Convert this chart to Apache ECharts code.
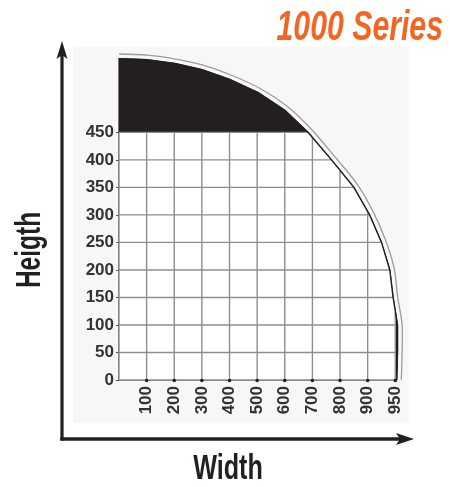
<!DOCTYPE html>
<html>
<head>
<meta charset="utf-8">
<script src="https://cdn.jsdelivr.net/npm/echarts@6/dist/echarts.min.js"></script>
<style>
  html, body { margin: 0; padding: 0; background: #ffffff; }
  #chart { width: 450px; height: 487px; }
</style>
</head>
<body>
<div id="chart"></div>
<script>
// Width axis ticks: ten equal columns, the last one labelled 950
const widthTickValues = [100, 200, 300, 400, 500, 600, 700, 800, 900, 1000];
const widthTickLabels = ['100', '200', '300', '400', '500', '600', '700', '800', '900', '950'];
// Height axis ticks
const heightTicks = [0, 50, 100, 150, 200, 250, 300, 350, 400, 450];
// Outline of the opening (width, height) from the top-left corner down to the floor
const arcWidth  = [0, 100, 203, 300, 401, 504, 600, 684, 769, 850, 907, 950, 980, 992, 1008, 1008, 1005];
const arcHeight = [584, 582, 575, 564, 546, 522, 490, 450, 400, 350, 300, 250, 200, 150, 100, 50, 0];
// Limits of the gridded zone
const gridMaxWidth = 1000;
const gridMaxHeight = 450;

const arcPoints = arcWidth.map((w, i) => [w, arcHeight[i]]);

// Width of the outline at a given height
function arcWidthAt(h) {
  for (let i = 0; i < arcPoints.length - 1; i++) {
    const a = arcPoints[i], b = arcPoints[i + 1];
    if (h <= a[1] && h >= b[1]) {
      const t = a[1] === b[1] ? 0 : (a[1] - h) / (a[1] - b[1]);
      return a[0] + t * (b[0] - a[0]);
    }
  }
  return arcPoints[arcPoints.length - 1][0];
}
// Height of the outline at a given width
function arcHeightAt(w) {
  for (let i = 0; i < arcPoints.length - 1; i++) {
    const a = arcPoints[i], b = arcPoints[i + 1];
    if (w >= a[0] && w <= b[0]) {
      const t = a[0] === b[0] ? 0 : (w - a[0]) / (b[0] - a[0]);
      return a[1] + t * (b[1] - a[1]);
    }
  }
  return 0;
}
// Sutherland-Hodgman clip of a polygon against one half-plane
function clipPoly(poly, inside, cross) {
  const out = [];
  for (let i = 0; i < poly.length; i++) {
    const cur = poly[i], prev = poly[(i + poly.length - 1) % poly.length];
    const ci = inside(cur), pi = inside(prev);
    if (ci) {
      if (!pi) out.push(cross(prev, cur));
      out.push(cur);
    } else if (pi) {
      out.push(cross(prev, cur));
    }
  }
  return out;
}
function clipMaxX(poly, xm) {
  return clipPoly(poly, p => p[0] <= xm, (a, b) => {
    const t = (xm - a[0]) / (b[0] - a[0]);
    return [xm, a[1] + t * (b[1] - a[1])];
  });
}
function clipMaxY(poly, ym) {
  return clipPoly(poly, p => p[1] <= ym, (a, b) => {
    const t = (ym - a[1]) / (b[1] - a[1]);
    return [a[0] + t * (b[0] - a[0]), ym];
  });
}

const INK = '#231f20';
const GRID = '#8e8e8e';
const TITLE_FONT = '"Liberation Sans", Arial, sans-serif';

function renderShape(params, api) {
  const px = p => api.coord(p);
  const children = [];
  const full = [[0, 0]].concat(arcPoints);

  // Outer clearance line, drawn a few pixels outside the outline
  const pix = arcPoints.map(px);
  const outer = pix.map((p, i) => {
    const a = pix[Math.max(i - 1, 0)], b = pix[Math.min(i + 1, pix.length - 1)];
    const tx = b[0] - a[0], ty = b[1] - a[1];
    const len = Math.hypot(tx, ty) || 1;
    return [p[0] + 4.6 * ty / len, p[1] - 4.6 * tx / len];
  });
  children.push({
    type: 'polyline',
    shape: { points: outer, smooth: 0.3 },
    style: { stroke: '#9c9c9c', lineWidth: 1.3, fill: null }
  });

  // Whole opening in black, gridded zone in white on top
  children.push({
    type: 'polygon',
    shape: { points: full.map(px), smooth: 0 },
    style: { fill: INK, stroke: INK, lineWidth: 1.2 }
  });
  const white = clipMaxY(clipMaxX(full, gridMaxWidth), gridMaxHeight);
  children.push({
    type: 'polygon',
    shape: { points: white.map(px) },
    style: { fill: '#ffffff' }
  });

  // Horizontal grid lines
  heightTicks.forEach(h => {
    const x2 = h === 0 ? arcWidthAt(0) : Math.min(gridMaxWidth, arcWidthAt(h));
    const p1 = px([0, h]), p2 = px([x2, h]);
    children.push({
      type: 'line',
      shape: { x1: p1[0], y1: p1[1], x2: p2[0], y2: p2[1] },
      style: { stroke: GRID, lineWidth: 1.4 }
    });
  });
  // Vertical grid lines
  [0].concat(widthTickValues).forEach(w => {
    const y2 = Math.min(gridMaxHeight, arcHeightAt(w));
    const p1 = px([w, 0]), p2 = px([w, y2]);
    children.push({
      type: 'line',
      shape: { x1: p1[0], y1: p1[1], x2: p2[0], y2: p2[1] },
      style: { stroke: GRID, lineWidth: 1.4 }
    });
  });

  // Dark edge along the outline
  children.push({
    type: 'polyline',
    shape: { points: pix },
    style: { stroke: INK, lineWidth: 1.4, fill: null }
  });

  // Tick dots on the width axis
  widthTickValues.forEach(w => {
    const p = px([w, 0]);
    children.push({
      type: 'circle',
      shape: { cx: p[0], cy: p[1] + 0.5, r: 1.8 },
      style: { fill: INK }
    });
  });

  return { type: 'group', children };
}

const chart = echarts.init(document.getElementById('chart'), null, { renderer: 'canvas' });

const option = {
  animation: false,
  backgroundColor: '#ffffff',
  grid: { left: 119, right: 54.7, top: 49.8, bottom: 107 },
  xAxis: {
    type: 'value',
    min: 0,
    max: 1000,
    interval: 100,
    axisLine: { show: false },
    splitLine: { show: false },
    axisTick: { show: false },
    axisLabel: {
      customValues: widthTickValues,
      rotate: 90,
      margin: 6,
      color: '#333333',
      fontFamily: '"Liberation Sans", Arial, sans-serif',
      fontWeight: 'bold',
      fontSize: 17,
      formatter: v => widthTickLabels[widthTickValues.indexOf(v)] || ''
    }
  },
  yAxis: {
    type: 'value',
    min: 0,
    max: 600,
    interval: 50,
    axisLine: { show: false },
    splitLine: { show: false },
    axisTick: {
      show: true,
      customValues: heightTicks,
      length: 3,
      lineStyle: { color: '#555555', width: 1 }
    },
    axisLabel: {
      customValues: heightTicks,
      margin: 5,
      color: '#333333',
      fontFamily: '"Liberation Sans", Arial, sans-serif',
      fontWeight: 'bold',
      fontSize: 17
    }
  },
  series: [{
    type: 'custom',
    coordinateSystem: 'cartesian2d',
    clip: false,
    silent: true,
    data: [[0, 0]],
    renderItem: renderShape,
    z: 3
  }],
  graphic: [
    // Pale panel behind the drawing
    {
      type: 'rect', z: -10, silent: true,
      shape: { x: 73, y: 47, width: 336, height: 376 },
      style: { fill: '#f7f7f7' }
    },
    // Height arrow
    {
      type: 'line', z: 10, silent: true,
      shape: { x1: 62, y1: 440.5, x2: 62, y2: 52 },
      style: { stroke: INK, lineWidth: 3.2 }
    },
    {
      type: 'polygon', z: 10, silent: true,
      shape: { points: [[62, 41], [67.5, 59], [62, 55], [56.5, 59]] },
      style: { fill: INK }
    },
    // Width arrow
    {
      type: 'line', z: 10, silent: true,
      shape: { x1: 60.4, y1: 439, x2: 404, y2: 439 },
      style: { stroke: INK, lineWidth: 3.4 }
    },
    {
      type: 'polygon', z: 10, silent: true,
      shape: { points: [[414, 439], [396, 433], [400, 439], [396, 445]] },
      style: { fill: INK }
    },
    // Titles (condensed horizontally)
    {
      type: 'text', z: 10,
      x: 443, y: 28, scaleX: 0.72,
      style: {
        text: '1000 Series',
        fill: '#f26522',
        fontFamily: TITLE_FONT,
        fontWeight: 'bold',
        fontStyle: 'italic',
        fontSize: 42,
        align: 'right',
        verticalAlign: 'middle'
      }
    },
    {
      type: 'text', z: 10,
      x: 228, y: 469, scaleX: 0.72,
      style: {
        text: 'Width',
        fill: INK,
        fontFamily: TITLE_FONT,
        fontWeight: 'bold',
        fontSize: 35,
        align: 'center',
        verticalAlign: 'middle'
      }
    },
    {
      type: 'text', z: 10,
      x: 30, y: 250, scaleX: 0.7,
      rotation: Math.PI / 2,
      style: {
        text: 'Heigth',
        fill: INK,
        fontFamily: TITLE_FONT,
        fontWeight: 'bold',
        fontSize: 35,
        align: 'center',
        verticalAlign: 'middle'
      }
    }
  ]
};

chart.setOption(option);
</script>
</body>
</html>
